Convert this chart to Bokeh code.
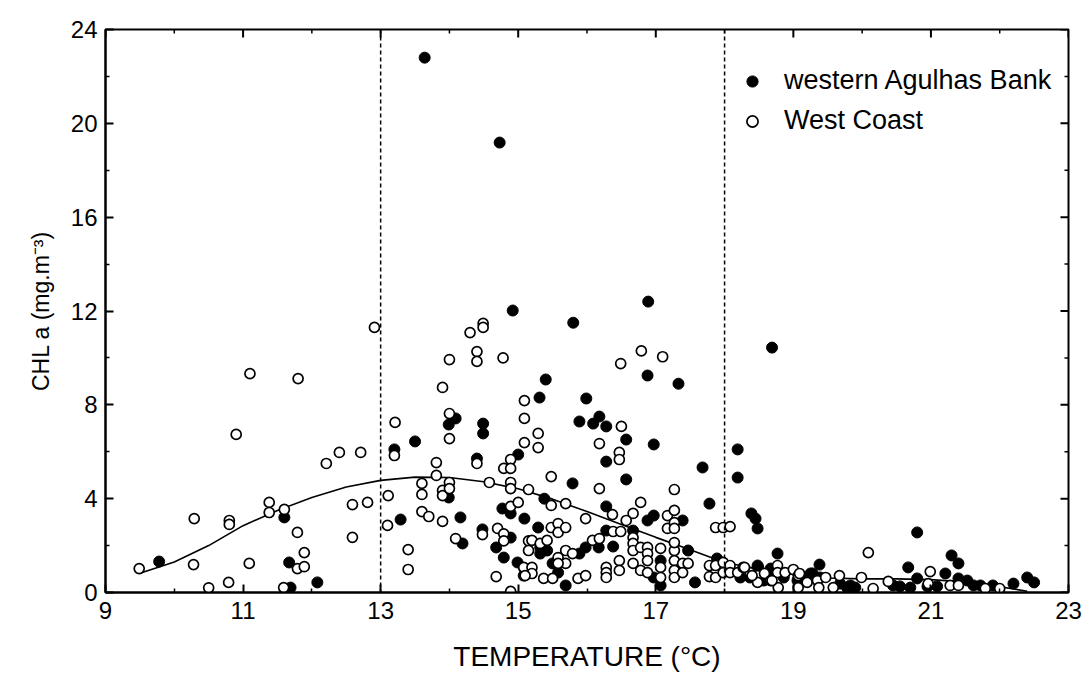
import math
from bokeh.plotting import figure
from bokeh.models import (Range1d, FixedTicker, LinearAxis, Span,
                          Legend, LegendItem, ColumnDataSource)
from bokeh.embed import file_html
from bokeh.resources import INLINE

# ---- data ----
wab_t = [9.78, 11.60, 11.69, 11.67, 12.08, 13.20, 13.29, 13.50, 13.64, 13.99, 14.09, 13.99, 14.16,
         14.73, 14.92, 14.49, 14.49, 14.40, 15.00, 14.77, 14.89, 15.09, 14.19, 14.48, 14.89, 14.68,
         14.79, 14.99, 15.08, 15.80, 16.89, 16.88, 17.33, 15.40, 15.31, 15.99, 15.89, 16.09, 16.18,
         16.28, 16.57, 16.97, 16.28, 15.79, 16.57, 15.38, 16.28, 15.29, 16.88, 16.97, 16.67, 16.28,
         16.38, 16.17, 15.98, 15.89, 17.07, 15.32, 15.42, 15.32, 15.50, 15.58, 15.69, 16.97, 17.07,
         18.69, 18.19, 18.19, 17.68, 17.78, 18.39, 18.45, 18.48, 17.39, 17.47, 17.57, 17.89, 18.48,
         18.77, 19.38, 18.37, 18.57, 18.67, 18.86, 19.06, 19.25, 19.39, 20.80, 21.30, 21.40, 20.67,
         22.40, 22.50, 22.20, 21.90, 21.21, 21.40, 21.53, 20.80, 18.23, 18.49, 18.69, 19.07, 19.20,
         19.28, 19.68, 19.83, 19.90, 20.45, 20.70, 19.78, 19.87, 20.55, 20.95, 21.09, 21.62, 21.72]
wab_c = [1.32, 3.20, 0.21, 1.28, 0.43, 6.10, 3.11, 6.44, 22.80, 7.16, 7.42, 4.05, 3.20,
         19.18, 12.02, 7.20, 6.78, 5.71, 5.88, 3.58, 3.37, 3.15, 2.09, 2.69, 2.34, 1.92,
         1.49, 1.28, 0.72, 11.50, 12.40, 9.25, 8.90, 9.08, 8.31, 8.27, 7.29, 7.20, 7.50,
         7.08, 6.52, 6.31, 5.58, 4.65, 4.82, 4.00, 3.67, 2.77, 3.07, 3.28, 2.64, 2.64,
         1.96, 1.92, 1.92, 1.66, 1.36, 1.92, 1.79, 1.66, 1.24, 0.85, 0.30, 0.64, 0.30,
         10.44, 6.10, 4.90, 5.33, 3.79, 3.37, 3.15, 2.73, 3.07, 1.79, 0.43, 1.45, 1.15,
         1.66, 1.19, 0.64, 0.51, 1.02, 0.64, 0.51, 0.81, 0.64, 2.56, 1.58, 1.24, 1.07,
         0.64, 0.43, 0.38, 0.30, 0.81, 0.60, 0.51, 0.60, 0.64, 1.07, 0.94, 0.55, 0.64,
         0.81, 0.38, 0.30, 0.21, 0.30, 0.21, 0.21, 0.21, 0.26, 0.26, 0.26, 0.30, 0.30]

wc_t = [9.49, 10.29, 10.28, 10.50, 10.79, 10.80, 10.80, 10.90, 11.10, 11.09, 11.38, 11.38, 11.60,
        11.59, 11.79, 11.80, 11.79, 11.89, 11.89, 12.21, 12.40, 12.59, 12.59, 12.71, 12.81, 12.91,
        13.11, 13.10, 13.21, 13.20, 13.40, 13.40, 13.60, 13.60, 13.60, 13.70, 13.81, 13.81, 13.90,
        13.90, 13.90, 13.90, 14.00, 14.00, 14.00, 14.00, 14.00, 14.09, 14.30, 14.40, 14.40, 14.49,
        14.49, 14.78, 15.09, 15.09, 15.09, 14.40, 14.89, 14.79, 14.89, 14.58, 14.89, 14.89, 15.15,
        14.89, 15.00, 14.48, 14.70, 14.79, 14.79, 15.15, 15.15, 15.09, 14.68, 14.89,
        15.29, 15.29, 15.48, 16.18, 17.27, 15.48, 15.69, 16.78, 15.98, 16.37, 16.49, 16.79, 17.10,
        16.50, 16.18, 16.47, 16.47, 15.48, 15.58, 15.58, 15.69, 16.67, 16.57, 17.17, 17.27, 17.17,
        17.27, 17.27, 16.67, 16.67, 16.67, 16.38, 16.49, 16.08, 16.18, 16.78, 16.88, 16.88, 16.88,
        17.07, 17.07, 15.20, 15.32, 15.42, 15.69, 15.79, 15.69, 15.58, 15.58, 15.37, 15.50, 15.87,
        15.98, 16.28, 16.28, 16.28, 16.47, 16.47, 16.67, 16.78, 16.88, 17.07, 17.27, 17.27, 17.27,
        17.27, 15.08, 15.20, 15.20, 15.10, 17.27, 17.39, 17.47, 17.39,
        17.87, 17.98, 18.08, 17.78, 17.87, 17.78, 17.87, 17.98, 17.98, 18.08, 18.08, 18.19, 18.27,
        18.37, 18.48, 18.58, 18.67, 18.77, 18.77, 18.88, 19.00, 19.07, 19.20, 19.35, 19.47, 19.09,
        18.78, 19.07, 19.37, 19.58, 18.48, 18.69, 18.40, 18.29, 19.67, 19.99, 20.38, 20.09, 20.99,
        20.16, 20.96, 21.28, 21.40, 21.79, 22.00]
wc_c = [1.02, 3.15, 1.19, 0.20, 0.43, 3.07, 2.90, 6.74, 9.33, 1.24, 3.84, 3.41, 3.54,
        0.21, 2.56, 9.12, 1.02, 1.10, 1.70, 5.50, 5.97, 3.75, 2.35, 5.97, 3.84, 11.30,
        4.13, 2.86, 7.25, 5.84, 1.83, 0.98, 4.65, 4.18, 3.45, 3.24, 5.54, 4.99, 8.74,
        4.35, 4.13, 3.03, 9.93, 7.63, 6.56, 4.69, 4.43, 2.30, 11.08, 10.27, 9.85, 11.47,
        11.30, 10.00, 8.18, 7.42, 6.39, 5.50, 5.67, 5.29, 5.29, 4.69, 4.69, 4.43, 4.39,
        3.67, 3.84, 2.47, 2.73, 2.50, 2.20, 2.20, 1.79, 1.02, 0.68, 0.05,
        6.78, 6.18, 4.94, 4.43, 4.39, 3.71, 3.79, 3.84, 3.15, 3.32, 9.76, 10.30, 10.05,
        7.08, 6.35, 5.97, 5.67, 2.77, 2.94, 2.56, 2.77, 3.37, 3.07, 3.28, 3.50, 2.73,
        2.98, 2.73, 2.34, 2.09, 1.79, 2.60, 2.60, 2.22, 2.30, 1.92, 1.92, 1.66, 1.36,
        1.88, 1.07, 2.22, 2.09, 2.22, 1.79, 1.66, 1.24, 1.49, 1.24, 0.60, 0.60, 0.60,
        0.72, 1.07, 0.85, 0.64, 1.36, 0.94, 1.24, 0.94, 0.85, 0.64, 1.79, 1.36, 0.94,
        0.64, 1.07, 1.07, 0.81, 0.72, 2.13, 1.24, 1.24, 0.85,
        2.77, 2.77, 2.81, 1.15, 1.15, 0.68, 0.64, 1.28, 0.85, 1.15, 0.85, 0.85, 1.07,
        0.85, 0.72, 0.81, 0.51, 1.15, 0.85, 0.85, 0.98, 0.72, 0.43, 0.51, 0.64, 0.81,
        0.21, 0.21, 0.21, 0.21, 0.43, 0.51, 0.72, 1.07, 0.72, 0.64, 0.47, 1.70, 0.89,
        0.17, 0.38, 0.30, 0.30, 0.17, 0.17]

curve_t = [9.5, 10.0, 10.5, 11.0, 11.5, 12.0, 12.5, 13.0, 13.5, 14.0, 14.5, 15.0, 15.5, 16.0,
           16.5, 17.0, 17.5, 18.0, 18.5, 19.0, 19.5, 20.0, 20.5, 21.0, 21.5, 22.0, 22.4]
curve_c = [0.82, 1.30, 2.00, 2.85, 3.50, 4.05, 4.50, 4.78, 4.92, 4.90, 4.72, 4.42, 3.98, 3.45,
           2.90, 2.35, 1.82, 1.28, 1.00, 0.78, 0.62, 0.58, 0.58, 0.55, 0.45, 0.25, 0.05]

x_ticks = [9, 11, 13, 15, 17, 19, 21, 23]
x_minor = [10, 12, 14, 16, 18, 20, 22]
y_ticks = [0, 4, 8, 12, 16, 20, 24]
y_minor = [2, 6, 10, 14, 18, 22]
boundaries = [13, 18]
X_MIN, X_MAX, Y_MIN, Y_MAX = 9, 23, 0, 24
FONT = "Liberation Sans"

p = figure(width=1086, height=677, x_range=Range1d(X_MIN, X_MAX), y_range=Range1d(Y_MIN, Y_MAX),
           output_backend="svg", toolbar_location=None,
           min_border_left=105, min_border_right=18, min_border_top=29, min_border_bottom=85,
           x_axis_location=None, y_axis_location=None)
p.xgrid.visible = False
p.ygrid.visible = False
p.outline_line_color = "black"
p.outline_line_width = 2
p.background_fill_color = "white"
p.border_fill_color = "white"


def style_axis(ax):
    ax.major_tick_in = 8
    ax.major_tick_out = 0
    ax.minor_tick_in = 4
    ax.minor_tick_out = 0
    ax.axis_line_width = 2
    ax.major_tick_line_width = 2
    ax.minor_tick_line_width = 1.5
    ax.axis_line_color = "black"
    ax.major_label_text_font = FONT
    ax.major_label_text_color = "black"
    ax.axis_label_text_font = FONT
    ax.axis_label_text_font_style = "normal"
    ax.axis_label_text_color = "black"


xb = LinearAxis(ticker=FixedTicker(ticks=x_ticks, minor_ticks=x_minor))
style_axis(xb)
xb.major_label_text_font_size = "24px"
xb.major_label_standoff = 9
xb.axis_label = "TEMPERATURE (°C)"
xb.axis_label_text_font_size = "28px"
xb.axis_label_standoff = 19
p.add_layout(xb, "below")

yl = LinearAxis(ticker=FixedTicker(ticks=y_ticks, minor_ticks=y_minor))
style_axis(yl)
yl.major_label_text_font_size = "24px"
yl.major_label_standoff = 8
yl.axis_label = "CHL a (mg.m⁻³)"
yl.axis_label_text_font_size = "23px"
yl.axis_label_standoff = 14
p.add_layout(yl, "left")

# mirrored inward ticks on the top and right edges (half of each dash is clipped by the frame)
p.scatter(x_ticks, [Y_MAX] * len(x_ticks), marker="dash", size=16, angle=math.pi / 2,
          line_color="black", line_width=2)
p.scatter(x_minor, [Y_MAX] * len(x_minor), marker="dash", size=8, angle=math.pi / 2,
          line_color="black", line_width=1.5)
p.scatter([X_MAX] * len(y_ticks), y_ticks, marker="dash", size=16,
          line_color="black", line_width=2)
p.scatter([X_MAX] * len(y_minor), y_minor, marker="dash", size=8,
          line_color="black", line_width=1.5)

for b in boundaries:
    p.add_layout(Span(location=b, dimension="height", line_color="black",
                      line_dash="4 3", line_width=1.5))

p.line(curve_t, curve_c, line_color="black", line_width=1.6)

src_wab = ColumnDataSource(dict(t=wab_t, c=wab_c))
src_wc = ColumnDataSource(dict(t=wc_t, c=wc_c))
r_wab = p.scatter("t", "c", source=src_wab, marker="circle", size=11,
                  fill_color="black", line_color="black", line_width=1)
r_wc = p.scatter("t", "c", source=src_wc, marker="circle", size=10,
                 fill_color="white", line_color="black", line_width=1.7)

legend = Legend(items=[LegendItem(label="western Agulhas Bank", renderers=[r_wab]),
                       LegendItem(label="West Coast", renderers=[r_wc])],
                location=(633, 456), orientation="vertical",
                border_line_color=None, background_fill_alpha=0,
                label_text_font=FONT, label_text_font_size="27px", label_text_color="black",
                glyph_width=28, glyph_height=28, label_standoff=18,
                spacing=9, padding=0, margin=0)
p.add_layout(legend)

open("out.html", "w").write(file_html(p, INLINE))
